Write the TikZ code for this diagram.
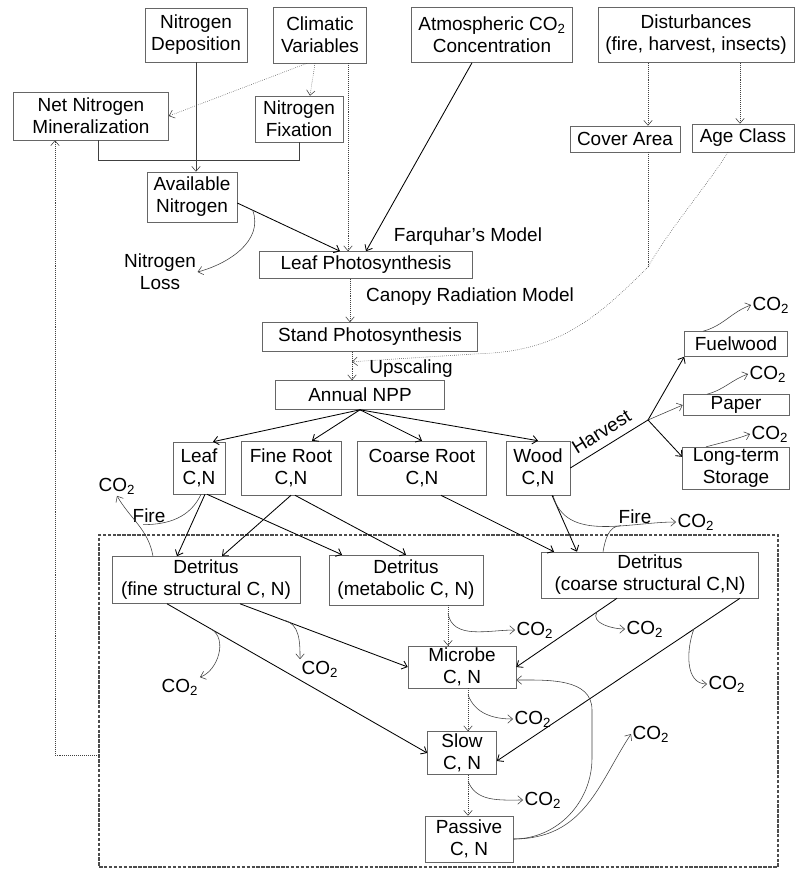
\documentclass[tikz,border=0pt]{standalone}
\usepackage{fontspec}
\setmainfont{Liberation Sans}
\usetikzlibrary{positioning,arrows.meta}
\newcommand{\cotwo}{CO\textsubscript{2}}
\tikzstyle{pool} = [rectangle, draw=black!60, thin, inner sep=1pt, align=center]
\tikzstyle{txt} = [inner sep=1pt, align=center]
\tikzstyle{flow} = [->, line width=0.6pt]
\tikzstyle{loss} = [->, thin, black!75]
\tikzstyle{dotflow} = [->, densely dotted, thin, black!75]
\tikzstyle{soilframe} = [rectangle, draw=black!70, dash pattern=on 2.5pt off 1pt, line width=0.8pt, minimum width=16.975cm, minimum height=8.3cm]

\begin{document}
\begin{tikzpicture}[on grid, >={Straight Barb[length=3.5pt,width=6pt]}, font=\fontsize{13.5}{15.6}\selectfont]
\useasboundingbox (0,0) rectangle (19.875,-21.8);

% Drivers
\node[pool, minimum width=2.55cm, minimum height=1.35cm] (ndep) at (4.9,-0.875) {Nitrogen\\Deposition};
\node[pool, minimum width=2.325cm, minimum height=1.4cm, right=3.1cm of ndep] (clim) {Climatic\\Variables};
\node[pool, minimum width=4.025cm, minimum height=1.375cm, right=4.3cm of clim] (atmco2) {Atmospheric \cotwo\\Concentration};
\node[pool, minimum width=4.9cm, minimum height=1.375cm, right=5.1cm of atmco2] (disturb) {Disturbances\\(fire, harvest, insects)};

% Nitrogen
\node[pool, minimum width=3.875cm, minimum height=1.2cm, below left=2.025cm and 2.625cm of ndep] (netmin) {Net Nitrogen\\Mineralization};
\node[pool, minimum width=2.2cm, minimum height=1.15cm, below left=2.1cm and 0.525cm of clim] (nfix) {Nitrogen\\Fixation};
\node[pool, minimum width=2.25cm, minimum height=1.25cm, below left=4.05cm and 0.1cm of ndep] (availn) {Available\\Nitrogen};
\node[txt, below left=1.875cm and 0.8cm of availn] (nloss) {Nitrogen\\Loss};

% Disturbance
\node[pool, minimum width=2.75cm, minimum height=0.65cm, below left=2.6cm and 1.775cm of disturb] (cover) {Cover Area};
\node[pool, minimum width=2.55cm, minimum height=0.7cm, below right=2.575cm and 1.175cm of disturb] (age) {Age Class};
\coordinate[below right=3.2cm and 0.575cm of cover] (merge);

% Photosynthesis
\node[pool, minimum width=5.325cm, minimum height=0.675cm, below right=1.7cm and 4.35cm of availn] (leafps) {Leaf Photosynthesis};
\node[pool, minimum width=5.375cm, minimum height=0.725cm, below right=1.8cm and 0.1cm of leafps] (standps) {Stand Photosynthesis};
\node[pool, minimum width=4.225cm, minimum height=0.725cm, below left=1.45cm and 0.25cm of standps] (npp) {Annual NPP};
\node[txt, above right=0.7cm and 2.55cm of leafps] (farquhar) {Farquhar's Model};
\node[txt, below right=0.8cm and 2.6cm of leafps] (canopy) {Canopy Radiation Model};
\node[txt, below right=0.8cm and 1.025cm of standps] (upscaling) {Upscaling};

% Vegetation pools
\node[pool, minimum width=1.3cm, minimum height=1.3cm, below left=1.825cm and 4.025cm of npp] (leaf) {Leaf\\C,N};
\node[pool, minimum width=2.5cm, minimum height=1.35cm, right=2.3cm of leaf] (fineroot) {Fine Root\\C,N};
\node[pool, minimum width=3.225cm, minimum height=1.35cm, right=3.275cm of fineroot] (coarseroot) {Coarse Root\\C,N};
\node[pool, minimum width=1.6cm, minimum height=1.35cm, right=2.9cm of coarseroot] (wood) {Wood\\C,N};

% Wood products
\coordinate[above right=1.2cm and 2.75cm of wood] (hv);
\node[pool, minimum width=2.65cm, minimum height=0.525cm, above right=1.575cm and 4.95cm of wood] (paper) {Paper};
\node[pool, minimum width=2.575cm, minimum height=0.625cm, above=1.525cm of paper] (fuelwood) {Fuelwood};
\node[pool, minimum width=2.675cm, minimum height=1cm, below=1.575cm of paper] (storage) {Long-term\\Storage};

% Soil pools
\node[pool, minimum width=4.7cm, minimum height=1.175cm, below right=2.8cm and 0.175cm of leaf] (detfine) {Detritus\\(fine structural C, N)};
\node[pool, minimum width=3.85cm, minimum height=1.25cm, right=5cm of detfine] (detmeta) {Detritus\\(metabolic C, N)};
\node[pool, minimum width=5.425cm, minimum height=1.15cm, above right=0.125cm and 6.1cm of detmeta] (detcoarse) {Detritus\\(coarse structural C,N)};
\node[pool, minimum width=2.7cm, minimum height=1.05cm, below right=2.175cm and 1.4cm of detmeta] (microbe) {Microbe\\C, N};
\node[pool, minimum width=1.725cm, minimum height=1.075cm, below=2.15cm of microbe] (slow) {Slow\\C, N};
\node[pool, minimum width=2.2cm, minimum height=1.15cm, below right=2.15cm and 0.175cm of slow] (passive) {Passive\\C, N};
\node[soilframe, below left=0.85cm and 0.5875cm of microbe] (soil) {};
\coordinate[below right=0.125cm and 3.25cm of slow] (ploop);

% CO2 releases
\node[txt, below left=0.45cm and 2.05cm of leaf] (co2fire1) {\cotwo};
\node[txt, below left=1.2cm and 1.25cm of leaf] (fire1) {Fire};
\node[txt, below right=1.225cm and 2.425cm of wood] (fire2) {Fire};
\node[txt, below right=1.35cm and 3.95cm of wood] (co2fire2) {\cotwo};
\node[txt, above right=0.975cm and 0.875cm of fuelwood] (co2fuel) {\cotwo};
\node[txt, above right=0.775cm and 0.8cm of paper] (co2paper) {\cotwo};
\node[txt, above right=0.85cm and 0.85cm of storage] (co2store) {\cotwo};
\node[txt, below right=1.25cm and 3.225cm of detmeta] (co2meta) {\cotwo};
\node[txt, below left=1.35cm and 0.125cm of detcoarse] (co2coarse1) {\cotwo};
\node[txt, below right=2.725cm and 1.925cm of detcoarse] (co2coarse2) {\cotwo};
\node[txt, below right=2.225cm and 2.85cm of detfine] (co2fine1) {\cotwo};
\node[txt, below left=2.675cm and 0.65cm of detfine] (co2fine2) {\cotwo};
\node[txt, below right=1.3cm and 1.775cm of microbe] (co2micro) {\cotwo};
\node[txt, below right=1.175cm and 2.025cm of slow] (co2slow) {\cotwo};
\node[txt, above right=2.625cm and 4.55cm of passive] (co2pass) {\cotwo};

% Nitrogen links
\draw[loss] (ndep.south) -- (ndep.south |- availn.north);
\draw[dotflow] ([xshift=-0.325cm]clim.south) -- (netmin.east);
\draw[dotflow] ([xshift=-0.125cm]clim.south) -- ([xshift=0.275cm]nfix.north);
\draw[loss, -] ([xshift=0.175cm]netmin.south) -- ++(0,-0.5) -| (nfix.south);
\draw[dotflow] ([xshift=0.7cm]clim.south) -- ([xshift=0.7cm]clim.south |- leafps.north);
\draw[flow] ([yshift=-0.15cm]availn.east) -- coordinate[pos=0.15] (nbr) ([xshift=-0.65cm]leafps.north);
\draw[loss] (nbr) to[out=-70,in=15] (nloss.east);
\draw[flow] ([xshift=-0.5cm]atmco2.south) -- (leafps.north);

% Upscaling
\draw[dotflow] ([xshift=-0.4cm]leafps.south) -- ([xshift=-0.4cm]leafps.south |- standps.north);
\draw[dotflow] ([xshift=-0.45cm]standps.south) -- coordinate[pos=0.35] (upsc) ([xshift=-0.45cm]standps.south |- npp.north);
\draw[dotflow] (merge |- disturb.south) -- (merge |- cover.north);
\draw[dotflow] ([xshift=-0.075cm]age.north |- disturb.south) -- ([xshift=-0.075cm]age.north);
\draw[dotflow, -] (merge |- cover.south) -- (merge);
\draw[dotflow] ([xshift=-0.375cm]age.south) .. controls +(-0.5,-0.8) and +(0.5,0.9) .. (merge) .. controls +(-1.3,-1.3) and +(2,0.05) .. ([yshift=-0.05cm]standps.south east) -- (upsc);

% Allocation
\draw[flow] (npp.south) -- ([xshift=0.35cm]leaf.north);
\draw[flow] (npp.south) -- ([xshift=0.525cm]fineroot.north);
\draw[flow] (npp.south) -- (coarseroot.north);
\draw[flow] (npp.south) -- (wood.north);

% Harvest
\draw[flow, -] (wood.east) -- node[sloped, above=2pt] {Harvest} (hv);
\draw[flow] (hv) -- (fuelwood.south west);
\draw[loss] (hv) -- (paper.west);
\draw[flow] (hv) -- ([yshift=-0.25cm]storage.north west);
\draw[loss] ([xshift=-0.825cm]fuelwood.north) to[out=15,in=200] (co2fuel.west);
\draw[loss] ([xshift=-0.725cm]paper.north) to[out=15,in=200] (co2paper.west);
\draw[loss] ([xshift=-0.75cm]storage.north) to[out=15,in=200] (co2store.west);

% Litterfall
\draw[flow] ([xshift=0.15cm]leaf.south) -- ([xshift=-0.725cm]detfine.north);
\draw[flow] ([xshift=0.2cm]leaf.south) -- ([xshift=-1.6cm]detmeta.north);
\draw[flow] (fineroot.south) -- ([xshift=0.4cm]detfine.north);
\draw[flow] ([xshift=0.1cm]fineroot.south) -- (detmeta.north);
\draw[flow] ([xshift=0.475cm]coarseroot.south) -- ([xshift=-2.4cm]detcoarse.north);
\draw[flow] ([xshift=0.35cm]wood.south) -- ([xshift=-1.825cm]detcoarse.north);

% Fire
\draw[loss] ([xshift=-1.325cm]detfine.north) to[out=100,in=-60] (co2fire1.south);
\draw[loss, -] ([xshift=0.05cm]leaf.south) to[out=-115,in=0] ([xshift=-0.15cm]fire1.south);
\draw[loss] ([xshift=0.375cm]wood.south) to[out=-75,in=180] (co2fire2.west);
\draw[loss, -] ([xshift=-1.175cm]detcoarse.north) to[out=80,in=180] ([xshift=-0.35cm]fire2.south);

% Decomposition
\draw[flow] ([xshift=0.85cm]detfine.south) -- coordinate[pos=0.26] (fbr1) (microbe.west);
\draw[flow] ([xshift=-0.975cm]detfine.south) -- coordinate[pos=0.17] (fbr2) (slow.west);
\draw[loss] (fbr1) to[out=-10,in=90] (co2fine1.north west);
\draw[loss] (fbr2) to[out=-30,in=20] (co2fine2.north east);
\draw[dotflow] ([xshift=1.05cm]detmeta.south) -- coordinate[pos=0.2] (mbr) ([xshift=1.05cm]detmeta.south |- microbe.north);
\draw[loss] (mbr) to[out=-80,in=180] (co2meta.west);
\draw[flow] ([xshift=-0.825cm]detcoarse.south) -- coordinate[pos=0.2] (cbr1) (microbe.east);
\draw[flow] ([xshift=2.25cm]detcoarse.south) -- coordinate[pos=0.19] (cbr2) ([yshift=-0.2cm]slow.east);
\draw[loss] (cbr1) to[out=-120,in=180] (co2coarse1.west);
\draw[loss] (cbr2) to[out=-110,in=180] (co2coarse2.west);
\draw[dotflow] ([xshift=0.15cm]microbe.south) -- coordinate[pos=0.15] (mibr) ([xshift=0.15cm]microbe.south |- slow.north);
\draw[loss] (mibr) to[out=-70,in=180] (co2micro.west);
\draw[dotflow] ([xshift=0.15cm]slow.south) -- coordinate[pos=0.15] (slbr) ([xshift=0.15cm]slow.south |- passive.north);
\draw[loss] (slbr) to[out=-70,in=180] (co2slow.west);
\draw[loss] (passive.east) .. controls +(1.8,0) and +(-0.8,-1.2) .. (co2pass.west);
\draw[loss] (passive.east) to[out=0,in=-90] (ploop) -- ++(0,1.2) to[out=90,in=0] ([yshift=-0.325cm]microbe.east);

% Nitrogen feedback
\draw[dotflow] ([yshift=-1.35cm]soil.west) -| ([xshift=-0.9cm]netmin.south);

\end{tikzpicture}
\end{document}
